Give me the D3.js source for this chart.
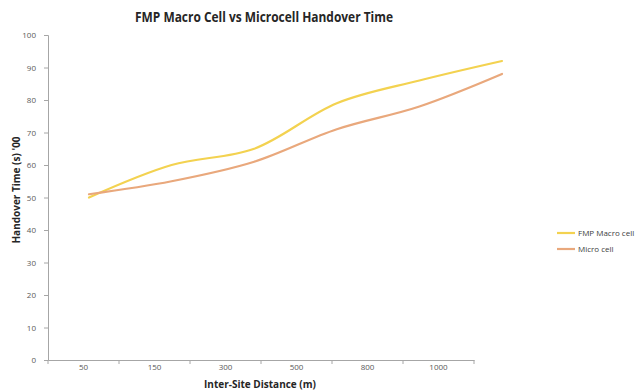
<!DOCTYPE html>
<html><head><meta charset="utf-8">
<script src="https://cdn.jsdelivr.net/npm/d3@7"></script>
<style>body{margin:0;background:#fff}svg{display:block}</style>
</head><body>
<svg id="c" width="638" height="392"></svg>
<script>
const categories = ["50","150","300","500","800","1000"];
const macroValues = [50, 60, 65, 79, 86, 92];
const microValues = [51, 55, 61, 71, 78, 88];
const yTicks = [0,10,20,30,40,50,60,70,80,90,100];
const seriesNames = ["FMP Macro cell","Micro cell"];
const seriesColors = ["#f3d250","#e9a87c"];

const svg = d3.select("#c");
const font = "'Open Sans', 'Liberation Sans', sans-serif";
const axisColor = "#a6a6a6", textColor = "#595959";

const y = d3.scaleLinear().domain([0,100]).range([360,35]);
const xAxisScale = d3.scaleBand().domain(categories).range([48,474]);
const xLine = d3.scalePoint().domain(categories).range([89,502]);

// title
svg.append("text").attr("x",264).attr("y",22).attr("text-anchor","middle")
  .attr("font-family",font).attr("font-weight","bold").attr("font-size",14)
  .attr("fill","#262626").attr("textLength",258).attr("lengthAdjust","spacingAndGlyphs")
  .text("FMP Macro Cell vs Microcell Handover Time");

// y axis
const gy = svg.append("g").attr("transform","translate(48,0)")
  .call(d3.axisLeft(y).tickValues(yTicks).tickSize(4).tickPadding(8));
gy.select(".domain").attr("stroke",axisColor);
gy.selectAll(".tick line").attr("stroke",axisColor);
gy.selectAll(".tick text").attr("fill",textColor).attr("font-family",font).attr("font-size",8);

// x axis
const gx = svg.append("g").attr("transform","translate(0,360)")
  .call(d3.axisBottom(xAxisScale).tickSize(0).tickPadding(4));
gx.select(".domain").attr("stroke",axisColor);
gx.selectAll(".tick text").attr("fill",textColor).attr("font-family",font).attr("font-size",8);
const bounds = categories.map(c => xAxisScale(c)).concat([xAxisScale(categories[categories.length-1]) + xAxisScale.bandwidth()]);
gx.selectAll("line.bt").data(bounds).join("line").attr("class","bt")
  .attr("x1",d=>d).attr("x2",d=>d).attr("y1",0).attr("y2",4).attr("stroke",axisColor);

// axis titles
svg.append("text").attr("transform","translate(20,190) rotate(-90)").attr("text-anchor","middle")
  .attr("font-family",font).attr("font-weight","bold").attr("font-size",10).attr("fill","#262626")
  .text("Handover  Time (s) '00");
svg.append("text").attr("x",260).attr("y",388).attr("text-anchor","middle")
  .attr("font-family",font).attr("font-weight","bold").attr("font-size",10).attr("fill","#262626")
  .text("Inter-Site Distance  (m)");

// lines
const line = d3.line().x((d,i)=>xLine(categories[i])).y(d=>y(d)).curve(d3.curveCatmullRom.alpha(0.5));
[macroValues, microValues].forEach((vals,k)=>{
  svg.append("path").datum(vals).attr("d",line).attr("fill","none")
    .attr("stroke",seriesColors[k]).attr("stroke-width",2.2).attr("stroke-linecap","round");
});

// legend
const legY = [233,249];
seriesNames.forEach((n,k)=>{
  svg.append("line").attr("x1",557).attr("x2",575).attr("y1",legY[k]).attr("y2",legY[k])
    .attr("stroke",seriesColors[k]).attr("stroke-width",2.2);
  svg.append("text").attr("x",578).attr("y",legY[k]+3).attr("font-family",font)
    .attr("font-size",8).attr("fill","#404040").text(n);
});
</script>
</body></html>
